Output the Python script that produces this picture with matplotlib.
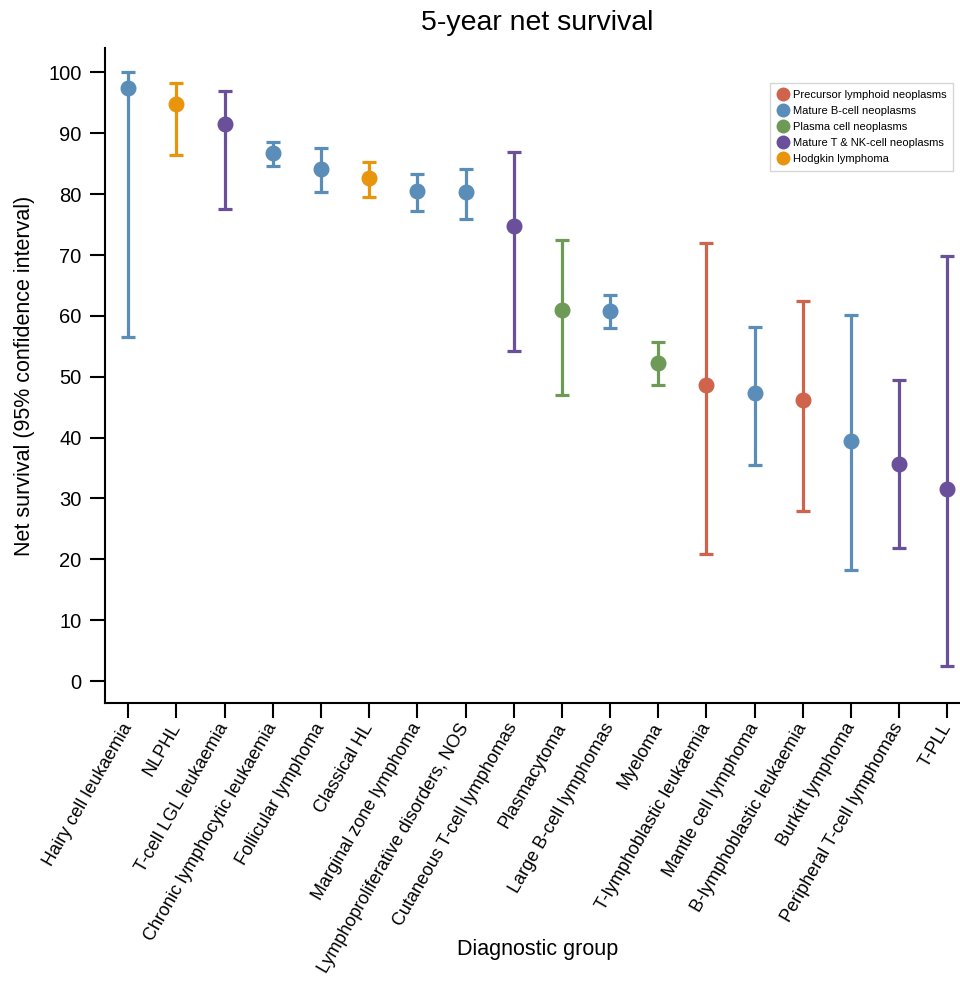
import matplotlib
matplotlib.use("Agg")
import matplotlib.pyplot as plt
from matplotlib.lines import Line2D

plt.rcParams['font.family'] = ['Liberation Sans', 'DejaVu Sans']

# Data
categories = ["Hairy cell leukaemia", "NLPHL", "T-cell LGL leukaemia",
              "Chronic lymphocytic leukaemia", "Follicular lymphoma", "Classical HL",
              "Marginal zone lymphoma", "Lymphoproliferative disorders, NOS",
              "Cutaneous T-cell lymphomas", "Plasmacytoma", "Large B-cell lymphomas",
              "Myeloma", "T-lymphoblastic leukaemia", "Mantle cell lymphoma",
              "B-lymphoblastic leukaemia", "Burkitt lymphoma",
              "Peripheral T-cell lymphomas", "T-PLL"]
survival = [97.4, 94.9, 91.6, 86.7, 84.2, 82.6, 80.5, 80.4, 74.7,
            61.0, 60.8, 52.2, 48.7, 47.3, 46.1, 39.5, 35.6, 31.6]
ci_lower = [56.5, 86.4, 77.6, 84.6, 80.3, 79.5, 77.3, 75.9, 54.3,
            47.0, 58.0, 48.6, 20.9, 35.5, 27.9, 18.2, 21.9, 2.4]
ci_upper = [100.0, 98.2, 97.0, 88.5, 87.6, 85.3, 83.3, 84.2, 87.0,
            72.4, 63.4, 55.7, 71.9, 58.2, 62.4, 60.2, 49.5, 69.8]
groups = ["B", "H", "T", "B", "B", "H", "B", "B", "T",
          "P", "B", "P", "L", "B", "L", "B", "T", "T"]

group_names = {"L": "Precursor lymphoid neoplasms",
               "B": "Mature B-cell neoplasms",
               "P": "Plasma cell neoplasms",
               "T": "Mature T & NK-cell neoplasms",
               "H": "Hodgkin lymphoma"}
group_colors = {"L": "#d0634b", "B": "#5b8db9", "P": "#6d9a56",
                "T": "#6a4f9b", "H": "#e8950d"}

fig = plt.figure(figsize=(9.6, 9.84), dpi=100)
ax = fig.add_axes([0.1094, 0.2856, 0.8906, 0.6655])

for i, cat in enumerate(categories):
    c = group_colors[groups[i]]
    ax.errorbar(i, survival[i],
                yerr=[[survival[i] - ci_lower[i]], [ci_upper[i] - survival[i]]],
                fmt='o', color=c, ecolor=c, elinewidth=2.3, capsize=4.8,
                capthick=2.3, markersize=10.5, zorder=3)

ax.set_xlim(-0.48, 17.26)
ax.set_ylim(-3.6, 104)
ax.set_yticks(range(0, 101, 10))
ax.set_xticks(range(len(categories)))
ax.set_xticklabels(categories, rotation=60, ha='right', va='center',
                   rotation_mode='anchor', fontsize=13)
ax.tick_params(axis='y', labelsize=14.5, length=11, width=1.5, pad=6)
ax.tick_params(axis='x', length=10.5, width=1.5, pad=5)
ax.spines['top'].set_visible(False)
ax.spines['right'].set_visible(False)
ax.spines['left'].set_linewidth(1.5)
ax.spines['bottom'].set_linewidth(1.5)

ax.set_ylabel("Net survival (95% confidence interval)", fontsize=15.5)
ax.yaxis.set_label_coords(-0.082, 0.5)
ax.set_xlabel("Diagnostic group", fontsize=15.5)
ax.xaxis.set_label_coords(0.506, -0.36)
fig.suptitle("5-year net survival", fontsize=20.5, y=0.99, x=0.56)

handles = [Line2D([], [], marker='o', linestyle='', color=group_colors[k],
                  markersize=9, label=group_names[k]) for k in ["L", "B", "P", "T", "H"]]
ax.legend(handles=handles, loc='upper right', bbox_to_anchor=(0.9985, 0.955),
          fontsize=8, frameon=True, fancybox=False, edgecolor='#cccccc',
          handletextpad=0.3, borderpad=0.6, labelspacing=0.55, handlelength=1.2)

fig.savefig("out.png", dpi=100)
